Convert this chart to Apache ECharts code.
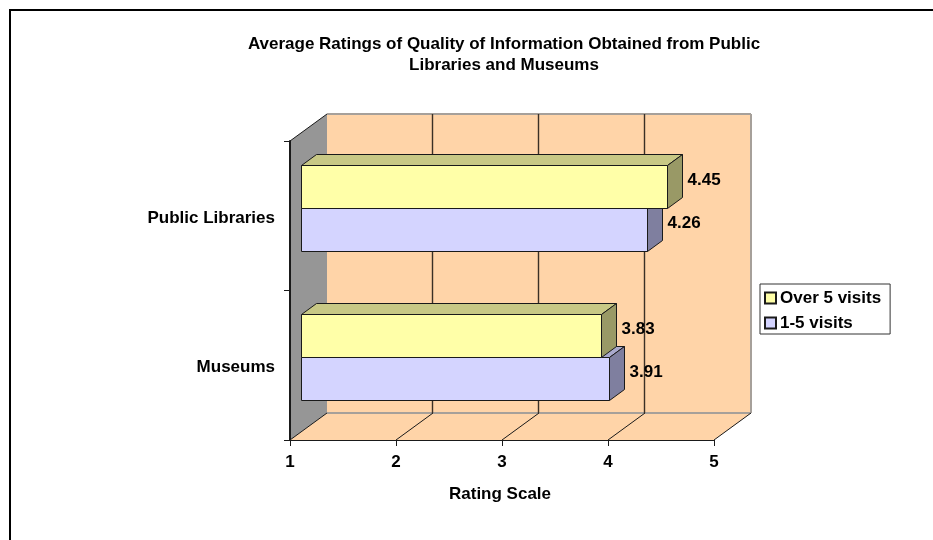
<!DOCTYPE html>
<html>
<head>
<meta charset="utf-8">
<title>Average Ratings</title>
<style>
  html, body { margin: 0; padding: 0; background: #fff; }
  #main { width: 933px; height: 540px; }
</style>
</head>
<body>
<div id="main"></div>
<script src="https://cdn.jsdelivr.net/npm/echarts@6/dist/echarts.min.js"></script>
<script>
const categories = ['Public Libraries', 'Museums']
const over5Visits = [4.45, 3.83]
const oneTo5Visits = [4.26, 3.91]
const ratingTicks = [1, 2, 3, 4, 5]

const font = '"Liberation Sans", Arial, sans-serif'
const lineDark = '#1a1a1a'
const wallDepth = [37, -27]   // back wall offset from the front plane
const barOffset = [11, -8]    // front of the bars from the front plane
const barDepth = [15, -11]
const barRatio = 43 / 150     // bar thickness inside a category band

function sharp (v) {
  return Math.round(v) + 0.5
}

// back wall, side wall and floor
function renderWalls (params, api) {
  let s = params.coordSys
  let dx = wallDepth[0]
  let dy = wallDepth[1]
  let l = s.x
  let r = s.x + s.width
  let t = s.y
  let b = s.y + s.height
  let edge = { stroke: '#a6a09a', lineWidth: 2, fill: null }
  return {
    type: 'group',
    children: [
      { type: 'polygon', shape: { points: [[l + dx, t + dy], [r + dx, t + dy], [r + dx, b + dy], [l + dx, b + dy]] }, style: { fill: '#ffd4a8' } },
      { type: 'polygon', shape: { points: [[l, b], [l + dx, b + dy], [r + dx, b + dy], [r, b]] }, style: { fill: '#ffd4a8' } },
      { type: 'polygon', shape: { points: [[l, t], [l + dx, t + dy], [l + dx, b + dy], [l, b]] }, style: { fill: '#969696' } },
      { type: 'line', shape: { x1: l + dx, y1: t + dy, x2: r + dx, y2: t + dy }, style: edge },
      { type: 'line', shape: { x1: r + dx, y1: t + dy, x2: r + dx, y2: b + dy }, style: edge },
      { type: 'line', shape: { x1: l + dx, y1: b + dy, x2: r + dx, y2: b + dy }, style: edge },
      { type: 'line', shape: { x1: l, y1: t, x2: l + dx, y2: t + dy }, style: { stroke: lineDark, lineWidth: 1 } }
    ]
  }
}

// one gridline on the back wall and its diagonal on the floor
function renderGrid (params, api) {
  let p = api.coord([api.value(0), 0])
  let s = params.coordSys
  let x = p[0]
  let b = s.y + s.height
  let children = [
    { type: 'line', shape: { x1: x, y1: b, x2: x + wallDepth[0], y2: b + wallDepth[1] }, style: { stroke: lineDark, lineWidth: 1 } }
  ]
  if (api.value(0) > 1 && api.value(0) < 5) {
    let gx = sharp(x + wallDepth[0] - 1.5)
    children.push({ type: 'line', shape: { x1: gx, y1: s.y + wallDepth[1], x2: gx, y2: b + wallDepth[1] }, style: { stroke: '#3a3026', lineWidth: 1.4 } })
  }
  return { type: 'group', children: children }
}

function barRenderer (slot, front, top, side) {
  return function (params, api) {
    let start = api.coord([1, api.value(0)])
    let end = api.coord([api.value(1), api.value(0)])
    let h = api.size([0, 1])[1] * barRatio
    let x0 = sharp(start[0] + barOffset[0])
    let x1 = sharp(end[0] + barOffset[0])
    let y0 = sharp(start[1] + barOffset[1] + (slot - 1) * h)
    let y1 = sharp(start[1] + barOffset[1] + slot * h)
    let dx = barDepth[0]
    let dy = barDepth[1]
    let border = { stroke: lineDark, lineWidth: 1, lineJoin: 'round' }
    return {
      type: 'group',
      children: [
        { type: 'polygon', shape: { points: [[x0, y0], [x0 + dx, y0 + dy], [x1 + dx, y0 + dy], [x1, y0]] }, style: Object.assign({ fill: top }, border) },
        { type: 'polygon', shape: { points: [[x1, y0], [x1 + dx, y0 + dy], [x1 + dx, y1 + dy], [x1, y1]] }, style: Object.assign({ fill: side }, border) },
        { type: 'rect', shape: { x: x0, y: y0, width: x1 - x0, height: y1 - y0 }, style: Object.assign({ fill: front }, border) },
        {
          type: 'text',
          z2: 50,
          style: {
            x: x1 + 20,
            y: (y0 + y1) / 2 - 6.5,
            text: api.value(1).toFixed(2),
            font: 'bold 17px ' + font,
            fill: '#000',
            align: 'left',
            verticalAlign: 'middle'
          }
        }
      ]
    }
  }
}

let myChart = echarts.init(document.getElementById('main'))
let option = {
  animation: false,
  backgroundColor: '#fff',
  textStyle: { fontFamily: font },
  title: {
    text: 'Average Ratings of Quality of Information Obtained from Public\nLibraries and Museums',
    left: 499,
    top: 29,
    textAlign: 'center',
    textStyle: { fontSize: 17, fontWeight: 'bold', color: '#000', lineHeight: 21, fontFamily: font }
  },
  graphic: [
    { type: 'polyline', shape: { points: [[10, 540], [10, 10], [933, 10]] }, style: { stroke: '#000', lineWidth: 2, fill: null } }
  ],
  legend: {
    left: 760,
    top: 284,
    orient: 'vertical',
    padding: [4, 9, 1, 4],
    itemWidth: 11,
    itemHeight: 11,
    itemGap: 5,
    backgroundColor: '#fff',
    borderColor: '#333',
    borderWidth: 1,
    borderRadius: 0,
    data: [
      { name: 'Over 5 visits', icon: 'rect' },
      { name: '1-5 visits', icon: 'rect' }
    ],
    textStyle: { fontSize: 17, lineHeight: 20, fontWeight: 'bold', color: '#000', fontFamily: font, padding: [0, 0, 0, -1] }
  },
  grid: { left: 290, right: 219, top: 141, bottom: 100 },
  xAxis: {
    type: 'value',
    min: 1,
    max: 5,
    interval: 1,
    z: 6,
    name: 'Rating Scale',
    nameLocation: 'middle',
    nameGap: 46,
    nameTextStyle: { fontSize: 17, fontWeight: 'bold', color: '#000', fontFamily: font, padding: [0, 4, 0, 0] },
    axisLine: { show: true, lineStyle: { color: lineDark, width: 1 } },
    axisTick: { show: true, length: 6, lineStyle: { color: lineDark } },
    axisLabel: { fontSize: 17, fontWeight: 'bold', color: '#000', margin: 14, fontFamily: font },
    splitLine: { show: false }
  },
  yAxis: {
    type: 'category',
    inverse: true,
    data: categories,
    z: 6,
    axisLine: { show: true, lineStyle: { color: lineDark, width: 2 } },
    axisTick: { show: true, length: 6, lineStyle: { color: lineDark } },
    axisLabel: { fontSize: 17, fontWeight: 'bold', color: '#000', margin: 15, fontFamily: font, verticalAlign: 'top', lineHeight: 5 },
    splitLine: { show: false }
  },
  series: [
    {
      name: 'walls',
      type: 'custom',
      z: 1,
      silent: true,
      renderItem: renderWalls,
      data: [[1]],
      encode: { x: 0 }
    },
    {
      name: 'grid',
      type: 'custom',
      z: 1,
      silent: true,
      renderItem: renderGrid,
      data: ratingTicks.map(v => [v]),
      encode: { x: 0 }
    },
    {
      name: 'Over 5 visits',
      type: 'custom',
      z: 3,
      itemStyle: { color: '#ffffa8', borderColor: lineDark, borderWidth: 1 },
      renderItem: barRenderer(0, '#ffffa8', '#c8c885', '#999966'),
      data: over5Visits.map((v, i) => [i, v]),
      encode: { y: 0, x: 1 }
    },
    {
      name: '1-5 visits',
      type: 'custom',
      z: 2,
      itemStyle: { color: '#d4d4ff', borderColor: lineDark, borderWidth: 1 },
      renderItem: barRenderer(1, '#d4d4ff', '#a9a9cc', '#7f7f9f'),
      data: oneTo5Visits.map((v, i) => [i, v]),
      encode: { y: 0, x: 1 }
    }
  ]
}
myChart.setOption(option)
</script>
</body>
</html>
